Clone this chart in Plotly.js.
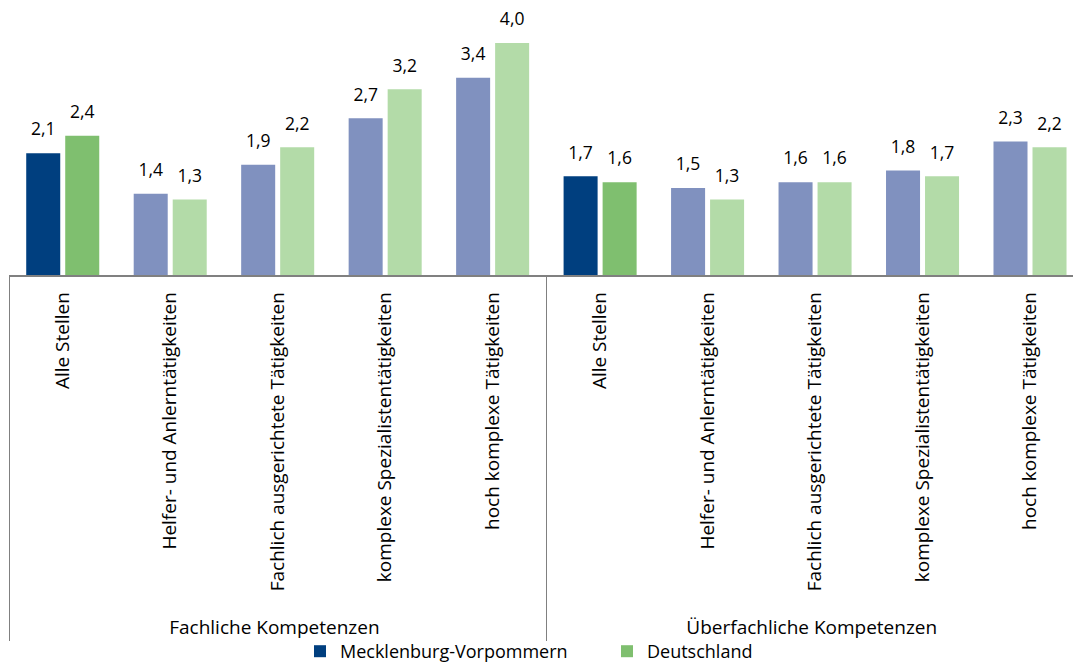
<!DOCTYPE html>
<html><head><meta charset="utf-8">
<script src="https://cdn.plot.ly/plotly-3.0.1.min.js"></script>
<style>body{margin:0;background:#fff}#c{width:1073px;height:670px}</style>
</head><body><div id="c"></div>
<script>
const groups = ["Fachliche Kompetenzen","Fachliche Kompetenzen","Fachliche Kompetenzen","Fachliche Kompetenzen","Fachliche Kompetenzen",
  "Überfachliche Kompetenzen","Überfachliche Kompetenzen","Überfachliche Kompetenzen","Überfachliche Kompetenzen","Überfachliche Kompetenzen"];
const categories = ["Alle Stellen","Helfer- und Anlerntätigkeiten","&nbsp;&nbsp;&nbsp;Fachlich ausgerichtete Tätigkeiten","komplexe Spezialistentätigkeiten","hoch komplexe Tätigkeiten",
  "Alle Stellen","Helfer- und Anlerntätigkeiten","&nbsp;&nbsp;&nbsp;Fachlich ausgerichtete Tätigkeiten","komplexe Spezialistentätigkeiten","hoch komplexe Tätigkeiten"];
const mv = [2.1,1.4,1.9,2.7,3.4,1.7,1.5,1.6,1.8,2.3];
const de = [2.4,1.3,2.2,3.2,4.0,1.6,1.3,1.6,1.7,2.2];
const mvColors = ["#003f7f","#8091bf","#8091bf","#8091bf","#8091bf","#003f7f","#8091bf","#8091bf","#8091bf","#8091bf"];
const deColors = ["#7fbf6f","#b3dba8","#b3dba8","#b3dba8","#b3dba8","#7fbf6f","#b3dba8","#b3dba8","#b3dba8","#b3dba8"];
const fmt = v => "<span style='font-size:17.5px'>" + v.toFixed(1).replace(".", ",") + "</span><br>&nbsp;";
const font = "Open Sans, sans-serif";
const traces = [
  {type:"bar", name:"Mecklenburg-Vorpommern", x:[groups,categories], y:mv, marker:{color:mvColors},
   text:mv.map(fmt), textposition:"outside", textfont:{size:9,color:"#000",family:font}, cliponaxis:false},
  {type:"bar", name:"Deutschland", x:[groups,categories], y:de, marker:{color:deColors},
   text:de.map(fmt), textposition:"outside", textfont:{size:9,color:"#000",family:font}, cliponaxis:false}
];
const layout = {
  width:1073, height:670,
  margin:{l:9,r:0,t:0,b:395},
  barmode:"group", bargap:0.274, bargroupgap:0.128,
  font:{family:font,size:19,color:"#000"},
  paper_bgcolor:"#fff", plot_bgcolor:"#fff",
  showlegend:true,
  legend:{orientation:"h", xref:"container", x:0.5657, xanchor:"center", yref:"container", y:0, yanchor:"bottom",
    font:{size:18}, itemwidth:30, entrywidth:262, traceorder:"normal", bgcolor:"rgba(0,0,0,0)"},
  xaxis:{type:"multicategory", range:[-0.5, 9.4], tickangle:-90, showline:true, linecolor:"#808080", linewidth:1.5,
    showdividers:true, dividercolor:"#808080", dividerwidth:1, ticks:"", tickfont:{size:19}, ticklabelstandoff:8},
  yaxis:{range:[0,4.74], visible:false, showgrid:false, zeroline:false}
};
Plotly.newPlot("c", traces, layout, {displayModeBar:false, staticPlot:true});
</script></body></html>
